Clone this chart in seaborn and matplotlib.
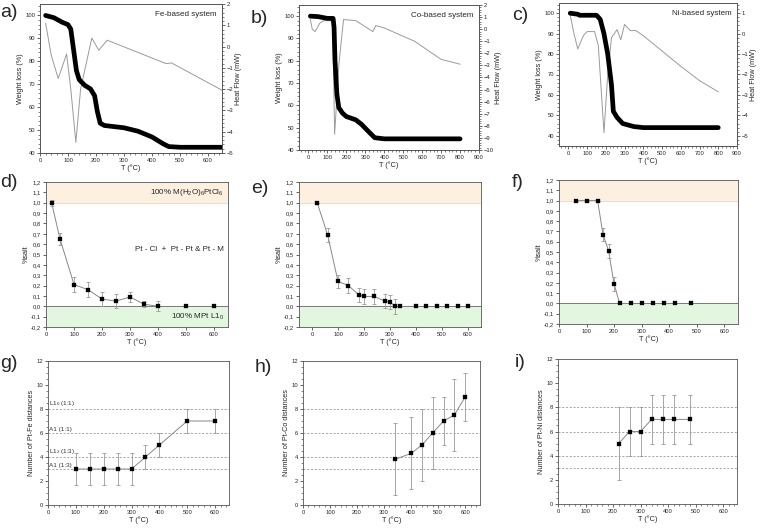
import numpy as np
import matplotlib
matplotlib.use('Agg')
import matplotlib.pyplot as plt
import seaborn as sns

sns.set_style('ticks')
plt.rcParams['font.family'] = ['Liberation Sans', 'DejaVu Sans']
plt.rcParams['mathtext.fontset'] = 'custom'
plt.rcParams['mathtext.rm'] = 'Liberation Sans'

# ---- TGA / DSC data ----
fe_t = [20, 50, 80, 100, 110, 120, 130, 140, 160, 180, 195, 205, 215, 230,
        300, 350, 400, 440, 460, 500, 650]
fe_w = [100, 99, 97, 96, 94, 85, 76, 72, 69.5, 68, 65, 58, 53, 52,
        51, 49.5, 47, 44, 42.8, 42.5, 42.5]
fe_hf_t = [20, 40, 65, 95, 110, 128, 145, 185, 210, 240, 450, 470, 650]
fe_hf = [1.1, -0.4, -1.5, -0.35, -2.0, -4.5, -2.0, 0.4, -0.17, 0.3, -0.8,
         -0.77, -2.05]

co_t = [10, 50, 100, 130, 135, 140, 150, 160, 180, 200, 250, 280, 320, 350,
        400, 800]
co_w = [100, 99.8, 99, 99, 95, 80, 65, 59, 56.5, 55, 53.5, 51.5, 48, 45.5,
        45, 45]
co_hf_t = [10, 20, 35, 50, 60, 80, 120, 128, 138, 160, 185, 250, 340, 355,
           400, 560, 700, 800]
co_hf = [0.8, 0.0, -0.2, 0.2, 0.5, 0.7, 0.7, 0.5, -8.7, -3.0, 0.8, 0.7,
         -0.2, 0.3, 0.1, -1.0, -2.5, -2.9]

ni_t = [10, 50, 60, 150, 170, 190, 210, 230, 240, 260, 290, 350, 400, 800]
ni_w = [100, 99.5, 99, 99, 97, 90, 80, 65, 52, 49, 46, 44.5, 44, 44]
ni_hf_t = [10, 30, 50, 80, 100, 140, 160, 190, 210, 230, 260, 280, 300, 330,
           360, 400, 600, 700, 800]
ni_hf = [0.9, 0.0, -0.75, -0.1, 0.1, 0.1, -0.6, -4.85, -2.0, -0.2, 0.2, -0.3,
         0.45, 0.15, 0.15, -0.1, -1.6, -2.3, -2.85]

# ---- %salt data ----
fe_salt_t = [20, 50, 100, 150, 200, 250, 300, 350, 400, 500, 600]
fe_salt = [1.0, 0.65, 0.21, 0.16, 0.07, 0.05, 0.09, 0.02, 0.0, 0.0, 0.0]
fe_salt_err = [0.03, 0.06, 0.07, 0.07, 0.07, 0.07, 0.05, 0.03, 0.05, 0, 0]

co_salt_t = [20, 60, 100, 140, 180, 200, 240, 280, 300, 320, 340, 400, 440,
             480, 520, 560, 600]
co_salt = [1.0, 0.69, 0.24, 0.20, 0.11, 0.095, 0.095, 0.05, 0.04, 0.0, 0.0,
           0, 0, 0, 0, 0, 0]
co_salt_err = [0, 0.07, 0.06, 0.07, 0.07, 0.07, 0.07, 0.07, 0.07, 0.07, 0,
               0, 0, 0, 0, 0, 0]

ni_salt_t = [60, 100, 140, 160, 180, 200, 220, 260, 300, 340, 380, 420, 480]
ni_salt = [1.0, 1.0, 1.0, 0.67, 0.51, 0.19, 0.0, 0, 0, 0, 0, 0, 0]
ni_salt_err = [0, 0, 0, 0.06, 0.07, 0.07, 0, 0, 0, 0, 0, 0, 0]

# ---- coordination numbers ----
fe_cn_t = [100, 150, 200, 250, 300, 350, 400, 500, 600]
fe_cn = [3, 3, 3, 3, 3, 4, 5, 7, 7]
fe_cn_err = [1.3, 1.3, 1.3, 1.3, 1.3, 1, 1, 1, 1]

co_cn_t = [340, 400, 440, 480, 520, 560, 600]
co_cn = [3.8, 4.3, 5, 6, 7, 7.5, 9]
co_cn_err = [3, 3, 3, 3, 2, 3, 2]

ni_cn_t = [220, 260, 300, 340, 380, 420, 480]
ni_cn = [5, 6, 6, 7, 7, 7, 7]
ni_cn_err = [3, 2, 2, 2, 2, 2, 2]

ref_levels = [8, 6, 4, 3]
ref_names = ['L1$_0$ (1:1)', 'A1 (1:1)', 'L1$_2$ (1:3)', 'A1 (1:3)']

W, H = 760, 529
fig = plt.figure(figsize=(W / 100, H / 100), dpi=100)


def box(l, t, r, b):
    return fig.add_axes([l / W, 1 - b / H, (r - l) / W, (b - t) / H])


def letter(txt, x, y):
    # panel letter, x/y = left/top in pixels
    fig.text(x / W, 1 - y / H, txt, ha='left', va='top', fontsize=14)


TICK = 4.2
LAB = 5.2


def style(ax):
    ax.tick_params(labelsize=TICK, length=2, width=0.5, pad=1.5)
    ax.tick_params(which='minor', length=1.2, width=0.4)
    for s in ax.spines.values():
        s.set_linewidth(0.6)
        s.set_color('#555555')
    ax.minorticks_on()


def tga(ax, t, w, hft, hf, xlim, xticks, hflim, hfticks, title):
    sns.lineplot(x=t, y=w, ax=ax, color='black', lw=3.4)
    ax.set_xlim(*xlim)
    ax.set_ylim(40, 105)
    ax.set_xticks(xticks)
    ax.set_yticks(range(40, 101, 10))
    ax.set_xlabel('T (°C)', fontsize=LAB, labelpad=1)
    ax.set_ylabel('Weight loss (%)', fontsize=LAB, labelpad=1)
    style(ax)
    ax2 = ax.twinx()
    sns.lineplot(x=hft, y=hf, ax=ax2, color='#9a9a9a', lw=0.7)
    ax2.set_ylim(*hflim)
    ax2.set_yticks(hfticks)
    ax2.set_ylabel('Heat Flow (mW)', fontsize=LAB, labelpad=1)
    style(ax2)
    ax.set_zorder(ax2.get_zorder() + 1)
    ax.patch.set_visible(False)
    ax.text(0.97, 0.95, title, transform=ax.transAxes, ha='right',
            va='top', fontsize=5.8)


def salt(ax, t, s, e, xlim, line, labels=False):
    ax.axhspan(1.0, 1.2, color='#fdf0e1', zorder=0)
    ax.axhspan(-0.2, 0.0, color='#e3f6df', zorder=0)
    ax.axhline(1.0, color='#dddddd', lw=0.6, zorder=1)
    ax.axhline(0.0, color='#666666', lw=0.6, zorder=1)
    sns.lineplot(x=t[:line], y=s[:line], ax=ax, color='#888888', lw=0.7)
    ax.errorbar(t, s, yerr=e, fmt='none', ecolor='#999999', elinewidth=0.6,
                capsize=1.5, capthick=0.6)
    sns.scatterplot(x=t, y=s, ax=ax, marker='s', color='black', s=7,
                    edgecolor='black', zorder=5)
    ax.set_xlim(*xlim)
    ax.set_ylim(-0.2, 1.2)
    ax.set_xticks(range(0, 601, 100))
    ax.set_yticks(np.round(np.arange(-0.2, 1.21, 0.1), 1))
    ax.set_yticklabels([f'{v:.1f}'.replace('.', ',')
                        for v in np.arange(-0.2, 1.21, 0.1)])
    ax.set_xlabel('T (°C)', fontsize=LAB, labelpad=1)
    ax.set_ylabel('%salt', fontsize=LAB, labelpad=1)
    style(ax)
    ax.minorticks_off()
    if labels:
        ax.text(635, 1.1, '100% M(H$_2$O)$_6$PtCl$_6$', ha='right',
                va='center', fontsize=5.8)
        ax.text(635, 0.55, 'Pt - Cl  +  Pt - Pt & Pt - M', ha='right',
                va='center', fontsize=5.8)
        ax.text(635, -0.1, '100% MPt L1$_0$', ha='right', va='center',
                fontsize=5.8)


def coord(ax, t, c, e, xlim, ylab, labels=False):
    for lv in ref_levels:
        ax.axhline(lv, color='#999999', lw=0.6, ls=(0, (2.5, 2)), zorder=1)
    ax.axhline(0, color='#bbbbbb', lw=0.6, ls=(0, (1, 1.5)), zorder=1)
    if labels:
        for lv, nm in zip(ref_levels, ref_names):
            ax.text(3, lv + 0.1, nm, ha='left', va='bottom', fontsize=4.6,
                    color='#333333')
    sns.lineplot(x=t, y=c, ax=ax, color='#888888', lw=0.7)
    ax.errorbar(t, c, yerr=e, fmt='none', ecolor='#999999', elinewidth=0.6,
                capsize=1.5, capthick=0.6)
    sns.scatterplot(x=t, y=c, ax=ax, marker='s', color='black', s=7,
                    edgecolor='black', zorder=5)
    ax.set_xlim(*xlim)
    ax.set_ylim(0, 12)
    ax.set_xticks(range(0, 601, 100))
    ax.set_yticks(range(0, 13, 2))
    ax.set_xlabel('T (°C)', fontsize=LAB, labelpad=1)
    ax.set_ylabel(ylab, fontsize=LAB, labelpad=1)
    style(ax)


ax_a = box(40, 4, 222, 153)
tga(ax_a, fe_t, fe_w, fe_hf_t, fe_hf, (0, 650), range(0, 601, 100),
    (-5, 2), range(-5, 3), 'Fe-based system')
ax_b = box(299, 5, 479, 150)
tga(ax_b, co_t, co_w, co_hf_t, co_hf, (-50, 900), range(0, 901, 100),
    (-10, 2), range(-10, 3), 'Co-based system')
ax_c = box(559, 3, 737, 146)
tga(ax_c, ni_t, ni_w, ni_hf_t, ni_hf, (-50, 900), range(0, 901, 100),
    (-5.5, 1.5), range(-5, 2), 'Ni-based system')
ax_c.set_ylim(35, 105)

ax_d = box(46, 182, 228, 327)
salt(ax_d, fe_salt_t, fe_salt, fe_salt_err, (0, 650), 9, labels=True)
ax_e = box(299, 182, 481, 327)
salt(ax_e, co_salt_t, co_salt, co_salt_err, (-50, 650), 10)
ax_f = box(559, 180, 738, 324)
salt(ax_f, ni_salt_t, ni_salt, ni_salt_err, (0, 650), 8)

ax_g = box(48, 361, 229, 505)
coord(ax_g, fe_cn_t, fe_cn, fe_cn_err, (0, 650),
      'Number of Pt-Fe distances', labels=True)
ax_h = box(303, 361, 480, 505)
coord(ax_h, co_cn_t, co_cn, co_cn_err, (0, 655),
      'Number of Pt-Co distances')
ax_i = box(558, 359, 737, 504)
coord(ax_i, ni_cn_t, ni_cn, ni_cn_err, (0, 650),
      'Number of Pt-Ni distances')

letter('a)', 0, 4)
letter('b)', 251, 10)
letter('c)', 512, 7)
letter('d)', 0, 174)
letter('e)', 251, 180)
letter('f)', 512, 174)
letter('g)', 0, 355)
letter('h)', 255, 359)
letter('i)', 515, 354)

fig.savefig('out.png', dpi=100)
